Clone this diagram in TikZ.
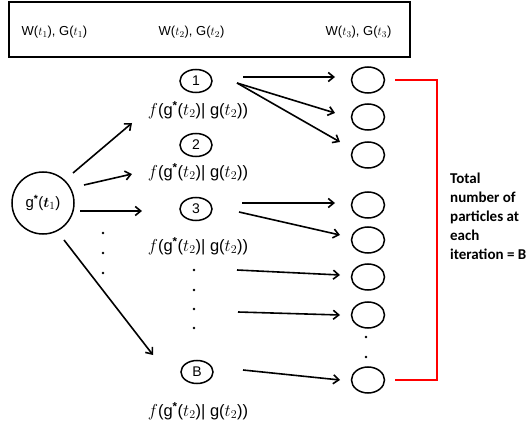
\documentclass[tikz,border=0pt]{standalone}
\usepackage{fontspec}
\setmainfont{Liberation Sans}
\newfontfamily\calib{Carlito}
\usepackage{bm}
\usetikzlibrary{arrows.meta,calc,shapes.geometric}
\tikzset{
  ell/.style={draw, ellipse, line width=1.5pt, minimum width=32pt, minimum height=23pt, inner sep=0pt, font=\fontsize{14}{16}\selectfont},
  rell/.style={draw, ellipse, line width=1.5pt, minimum width=33pt, minimum height=26pt, inner sep=0pt},
  arr/.style={-{Straight Barb[length=5.5pt,width=9pt]}, line width=1.6pt},
  dotn/.style={circle, fill, inner sep=0pt, minimum size=2.6pt},
  hdr/.style={font=\fontsize{13}{15}\selectfont, inner sep=0pt},
  flab/.style={font=\fontsize{16.5}{18}\selectfont, inner sep=0pt},
}
\newcommand{\flabtext}{\(f\)(g\textsuperscript{\bfseries *}(\(t_2\))|\ g(\(t_2\)))}
\begin{document}
\begin{tikzpicture}[x=1pt,y=-1pt]
\useasboundingbox (0,0) rectangle (531,425);
% header box
\node[draw, line width=1.5pt, inner sep=0pt, minimum width=401pt, minimum height=55pt] (box) at (209.5,29.5) {};
\node[hdr] (h1) at (54.5,32) {W(\(t_1\)), G(\(t_1\))};
\node[hdr] (h2) at (191.5,32) {W(\(t_2\)), G(\(t_2\))};
\node[hdr] (h3) at (358.5,32) {W(\(t_3\)), G(\(t_3\))};
% left circle
\node[draw, circle, line width=1.5pt, minimum size=62pt, inner sep=0pt, font=\fontsize{15}{17}\selectfont] (g1) at (43,203) {g\textsuperscript{\bfseries *}(\(\bm{t}_1\))};
% middle ellipses
\node[ell] (m1) at (196,81) {1};
\node[ell] (m2) at (196,145) {2};
\node[ell] (m3) at (196,209) {3};
\node[ell] (mB) at (197,372) {B};
\node[flab] (l1) at (198,110) {\flabtext};
\node[flab] (l2) at (198,172) {\flabtext};
\node[flab] (l3) at (198,246) {\flabtext};
\node[flab] (lB) at (198,411) {\flabtext};
% dots
\node[dotn] (ld1) at (103,233) {};
\node[dotn] (ld2) at (103,253) {};
\node[dotn] (ld3) at (103,273) {};
\node[dotn] (md1) at (194,270) {};
\node[dotn] (md2) at (194,290) {};
\node[dotn] (md3) at (194,309) {};
\node[dotn] (md4) at (194,328) {};
\node[dotn] (rd1) at (366,337) {};
\node[dotn] (rd2) at (366,357) {};
% right ellipses
\node[rell] (r1) at (368,80) {};
\node[rell] (r2) at (368,117) {};
\node[rell] (r3) at (368,155) {};
\node[rell] (r4) at (368,205) {};
\node[rell] (r5) at (368,240) {};
\node[rell] (r6) at (368,277) {};
\node[rell] (r7) at (368,315) {};
\node[rell] (r8) at (368,380) {};
% arrows from g1
\draw[arr] ($(g1)+(30,-30)$) -- ($(m1)+(-64,42)$);
\draw[arr] ($(g1)+(41,-18)$) -- ($(m2)+(-64,29)$);
\draw[arr] ($(g1)+(37,8)$) -- ($(m3)+(-54,2)$);
\draw[arr] ($(g1)+(21,37)$) -- ($(mB)+(-44,-17)$);
% arrows middle to right
\draw[arr] ($(m1)+(47,-4)$) -- ($(r1)+(-33,-3)$);
\draw[arr] ($(m1)+(41,2)$) -- ($(r2)+(-33,-4)$);
\draw[arr] ($(m1)+(41,2)$) -- ($(r3)+(-28,-13)$);
\draw[arr] ($(m3)+(46,-6)$) -- ($(r4)+(-33,-2)$);
\draw[arr] ($(m3)+(43,3)$) -- ($(r5)+(-28,-5)$);
\draw[arr] ($(md1)+(43,0)$) -- ($(r6)+(-28,-2)$);
\draw[arr] ($(md3)+(44,3)$) -- ($(r7)+(-28,0)$);
\draw[arr] ($(mB)+(46,-2)$) -- ($(r8)+(-28,0)$);
% red bracket
\coordinate (bt) at (437,80);
\draw[red, line width=2.2pt] ($(r1.east)+(10,0)$) -- (bt) |- ($(r8.east)+(10,0)$);
\node[anchor=north west, align=left, inner sep=0pt, font=\calib\bfseries\fontsize{15}{19}\selectfont] (tot) at (450,173) {Total\\number of\\particles at\\each\\iteration = B};
\end{tikzpicture}
\end{document}
